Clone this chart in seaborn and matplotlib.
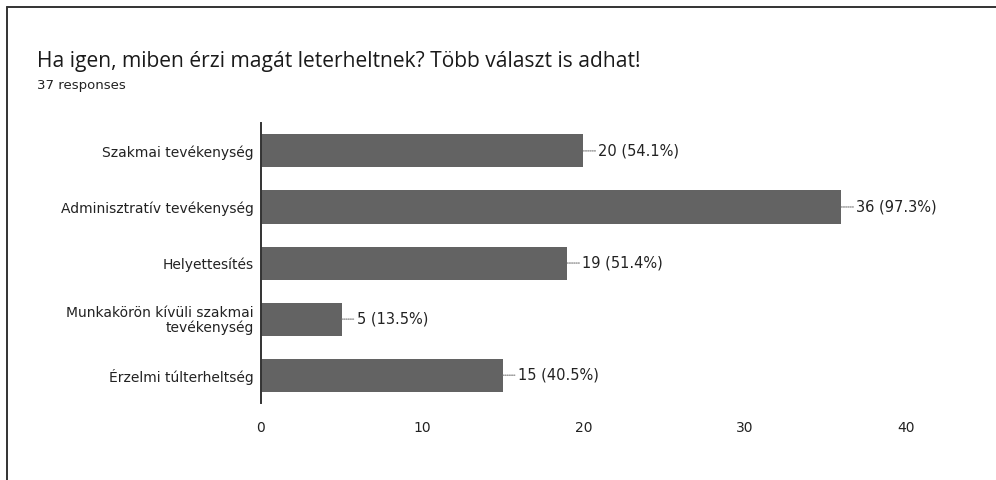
import matplotlib
matplotlib.use("Agg")
import matplotlib.pyplot as plt
import seaborn as sns
import pandas as pd
from matplotlib.lines import Line2D

categories = [
    "Szakmai tevékenység",
    "Adminisztratív tevékenység",
    "Helyettesítés",
    "Munkakörön kívüli szakmai\ntevékenység",
    "Érzelmi túlterheltség",
]
counts = [20, 36, 19, 5, 15]
percents = [54.1, 97.3, 51.4, 13.5, 40.5]
x_ticks = [0, 10, 20, 30, 40]
title = "Ha igen, miben érzi magát leterheltnek? Több választ is adhat!"
subtitle = "37 responses"

df = pd.DataFrame({"category": categories, "count": counts, "percent": percents})

sns.set_theme(style="white")
plt.rcParams["font.family"] = ["DejaVu Sans"]

fig = plt.figure(figsize=(9.96, 4.8), dpi=100)
ax = fig.add_axes([0.262, 0.160, 0.696, 0.584])

sns.barplot(data=df, x="count", y="category", orient="h", color="#636363",
            width=0.59, saturation=1, ax=ax, linewidth=0)

ax.set_xlim(0, 43)
ax.set_ylim(4.5, -0.5)
ax.set_xticks(x_ticks)
ax.set_xlabel("")
ax.set_ylabel("")
ax.tick_params(axis="x", length=0, pad=13, labelsize=10, labelcolor="#222222")
ax.tick_params(axis="y", length=0, pad=5, labelsize=10, labelcolor="#222222")
for lab in ax.get_yticklabels():
    lab.set_horizontalalignment("right")
    lab.set_multialignment("right")
    lab.set_linespacing(1.05)

for side in ["top", "right", "bottom"]:
    ax.spines[side].set_visible(False)
ax.spines["left"].set_color("#333333")
ax.spines["left"].set_linewidth(1.4)

# value labels with a dotted leader from the bar end
for i, (c, p) in enumerate(zip(counts, percents)):
    ax.annotate("", xy=(c, i), xytext=(c + 0.75, i),
                arrowprops=dict(arrowstyle="-", color="#777777", lw=0.8,
                                linestyle=(0, (1, 1)), shrinkA=0, shrinkB=0))
    ax.annotate(f"{c} ({p}%)", xy=(c, i), xytext=(15, 0),
                textcoords="offset pixels", va="center", ha="left",
                fontsize=10.5, color="#222222")

fig.text(37 / 996, 1 - 62 / 480, title, fontsize=15.1, color="#1a1a1a",
         va="center", ha="left", family=["Open Sans", "DejaVu Sans"])
fig.text(37 / 996, 1 - 86 / 480, subtitle, fontsize=9.5, color="#222222",
         va="center", ha="left")

# scanned page frame: left and top rule
fig.add_artist(Line2D([7 / 996, 7 / 996], [0, 1 - 7 / 480],
                      transform=fig.transFigure, color="#333333", lw=1.4))
fig.add_artist(Line2D([7 / 996, 1], [1 - 7 / 480, 1 - 7 / 480],
                      transform=fig.transFigure, color="#333333", lw=1.4))

fig.savefig("out.png", dpi=100)
